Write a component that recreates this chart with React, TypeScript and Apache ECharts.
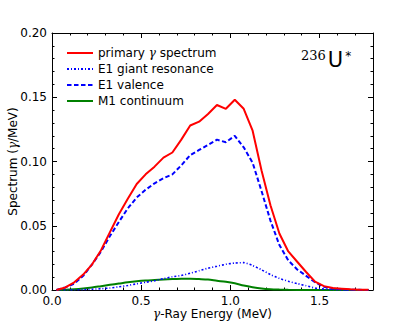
import React, { useEffect, useRef } from "react";
import * as echarts from "echarts";

const energies = [0.025, 0.075, 0.125, 0.175, 0.225, 0.275, 0.325, 0.375, 0.425, 0.475, 0.525, 0.575, 0.625, 0.675, 0.725, 0.775, 0.825, 0.875, 0.925, 0.975, 1.025, 1.075, 1.125, 1.175, 1.225, 1.275, 1.325, 1.375, 1.425, 1.475, 1.525, 1.575, 1.625, 1.675, 1.725, 1.775];
const primary = [0, 0.002, 0.006, 0.012, 0.02, 0.031, 0.045, 0.059, 0.071, 0.0825, 0.09, 0.096, 0.103, 0.107, 0.117, 0.128, 0.131, 0.137, 0.144, 0.141, 0.148, 0.141, 0.124, 0.093, 0.066, 0.044, 0.03, 0.022, 0.014, 0.0065, 0.003, 0.0015, 0.001, 0.0005, 0.0002, 0.0001];
const e1Giant = [0, 0, 0.0001, 0.0003, 0.0006, 0.001, 0.0015, 0.0025, 0.0035, 0.0048, 0.006, 0.0072, 0.0088, 0.0103, 0.0113, 0.013, 0.015, 0.017, 0.0185, 0.02, 0.021, 0.0213, 0.019, 0.0157, 0.012, 0.009, 0.0068, 0.005, 0.0033, 0.0015, 0.0007, 0.0003, 0.0001, 0, 0, 0];
const e1Valence = [0, 0.002, 0.005, 0.011, 0.02, 0.03, 0.042, 0.053, 0.0635, 0.072, 0.078, 0.083, 0.087, 0.09, 0.097, 0.105, 0.109, 0.113, 0.117, 0.115, 0.12, 0.111, 0.099, 0.077, 0.054, 0.035, 0.023, 0.016, 0.011, 0.006, 0.0025, 0.001, 0.0005, 0.0002, 0.0001, 0];
const m1Continuum = [0, 0.0002, 0.0006, 0.0012, 0.002, 0.003, 0.004, 0.005, 0.006, 0.0068, 0.0074, 0.0078, 0.0082, 0.0085, 0.0087, 0.0088, 0.0085, 0.0081, 0.0072, 0.0064, 0.0052, 0.0035, 0.0022, 0.0012, 0.0006, 0.0003, 0.0001, 0, 0, 0, 0, 0, 0, 0, 0, 0];

const seriesNames = ["primary γ spectrum", "E1 giant resonance", "E1 valence", "M1 continuum"];
const xTicks = [0, 0.5, 1.0, 1.5];
const yTicks = [0, 0.05, 0.1, 0.15, 0.2];

const FONT = "DejaVu Sans";

function pairs(vals: number[]) {
  return energies.map((e, i) => [e, vals[i]]);
}

export default function App() {
  const ref = useRef<HTMLDivElement>(null);
  useEffect(() => {
    if (!ref.current) return;
    const chart = echarts.init(ref.current, null, { renderer: "svg" });
    const tick = { show: true, inside: true, length: 5, lineStyle: { color: "#000", width: 1 } };
    const minor = { show: true, splitNumber: 5, length: 2.5, lineStyle: { color: "#000", width: 1 } };
    const axLine = { show: true, onZero: false, lineStyle: { color: "#000", width: 1 } };
    const rich = {
      g: { fontFamily: "DejaVu Serif", fontStyle: "italic", fontSize: 12, color: "#000" },
    };
    chart.setOption({
      animation: false,
      backgroundColor: "#fff",
      grid: { left: 52, right: 42, top: 33, bottom: 42, containLabel: false, outerBoundsMode: "none" },
      legend: {
        orient: "vertical",
        left: 61,
        top: 42,
        itemWidth: 26,
        itemHeight: 10,
        itemGap: 4,
        itemStyle: { opacity: 0 },
        data: seriesNames.map((n) => ({ name: n })),
        textStyle: { fontFamily: FONT, fontSize: 12, color: "#000", rich: { g: { fontFamily: "DejaVu Serif", fontStyle: "italic", fontSize: 12, color: "#000" }, t: { fontFamily: FONT, fontSize: 12, color: "#000" } } },
        formatter: (name: string) => name === seriesNames[0] ? "{t|primary }{g|γ}{t| spectrum}" : name,
      },
      xAxis: [
        {
          type: "value", min: 0, max: 1.8, interval: 0.5,
          axisLine: axLine, axisTick: tick, minorTick: minor, splitLine: { show: false },
          axisLabel: { show: true, fontFamily: FONT, fontSize: 12, color: "#000", margin: 5,
            formatter: (v: number) => xTicks.includes(v) ? v.toFixed(1) : "" },
          name: "{g|γ}-Ray Energy (MeV)", nameLocation: "middle", nameGap: 18, nameMoveOverlap: false,
          nameTextStyle: { fontFamily: FONT, fontSize: 12, color: "#000", rich },
        },
        {
          type: "value", min: 0, max: 1.8, interval: 0.5, position: "top",
          axisLine: axLine, axisTick: tick, minorTick: minor, splitLine: { show: false },
          axisLabel: { show: false },
        },
      ],
      yAxis: [
        {
          type: "value", min: 0, max: 0.2, interval: 0.05,
          axisLine: axLine, axisTick: tick, minorTick: minor, splitLine: { show: false },
          axisLabel: { show: true, fontFamily: FONT, fontSize: 12, color: "#000", margin: 5,
            formatter: (v: number) => yTicks.some((t) => Math.abs(t - v) < 1e-9) ? v.toFixed(2) : "" },
          name: "Spectrum ({g|γ}/MeV)", nameLocation: "middle", nameGap: 33, nameMoveOverlap: false,
          nameTextStyle: { fontFamily: FONT, fontSize: 12, color: "#000", rich },
        },
        {
          type: "value", min: 0, max: 0.2, interval: 0.05, position: "right",
          axisLine: axLine, axisTick: tick, minorTick: minor, splitLine: { show: false },
          axisLabel: { show: false },
        },
      ],
      series: [
        { name: seriesNames[0], type: "line", data: pairs(primary), showSymbol: false, symbol: "none",
          lineStyle: { color: "#ff0000", width: 2 }, itemStyle: { color: "#ff0000" }, z: 4 },
        { name: seriesNames[1], type: "line", data: pairs(e1Giant), showSymbol: false, symbol: "none",
          lineStyle: { color: "#0000ff", width: 1.6, type: [2, 2, 1, 2] as any }, itemStyle: { color: "#0000ff" }, z: 3, smooth: 0.2 },
        { name: seriesNames[2], type: "line", data: pairs(e1Valence), showSymbol: false, symbol: "none",
          lineStyle: { color: "#0000ff", width: 2, type: [4.5, 2.5] as any }, itemStyle: { color: "#0000ff" }, z: 3 },
        { name: seriesNames[3], type: "line", data: pairs(m1Continuum), showSymbol: false, symbol: "none",
          lineStyle: { color: "#008000", width: 2 }, itemStyle: { color: "#008000" }, z: 2, smooth: 0.3 },
      ],
      graphic: [
        {
          type: "text", left: 301, top: 49,
          style: {
            text: "{a|236}{b|U}{c|*}",
            rich: {
              a: { fontFamily: "DejaVu Serif", fontSize: 13, color: "#000", verticalAlign: "top", padding: [0, 2, 8, 0] },
              b: { fontFamily: FONT, fontSize: 21, color: "#000" },
              c: { fontFamily: FONT, fontSize: 12, color: "#000", padding: [0, 0, 8, 2] },
            },
          },
        },
      ],
    });
    return () => chart.dispose();
  }, []);
  return <div ref={ref} style={{ width: 415, height: 332, position: "absolute", left: 0, top: 0 }} />;
}
